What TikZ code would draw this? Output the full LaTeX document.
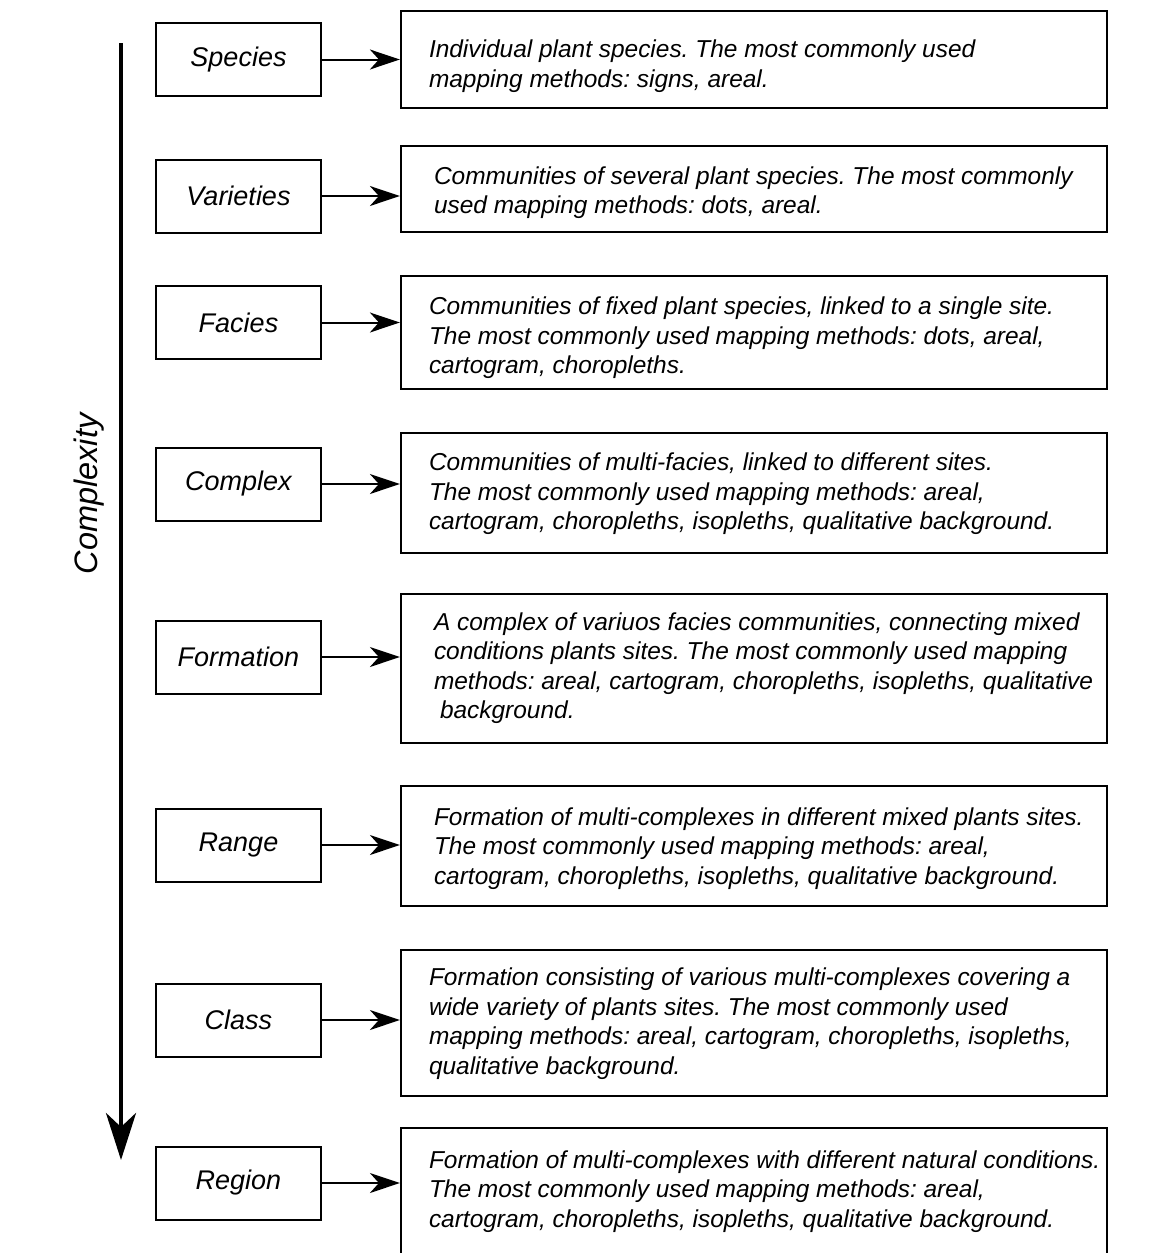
\documentclass[tikz,border=0pt]{standalone}
\usepackage{fontspec}
\setmainfont{Liberation Sans}
\usetikzlibrary{arrows.meta}
% #1: left indent, #2: downward offset of the text block, #3: lines
\newcommand\desctxt[3]{\makebox[650pt][l]{\hspace*{#1}\begin{tabular}{@{}l@{}}\rule{0pt}{\dimexpr 20.65pt+2\dimexpr #2\relax\relax}#3\end{tabular}}}
\begin{document}
\frenchspacing
\begin{tikzpicture}[x=1pt,y=-1pt,
  levelbox/.style={draw, line width=2pt, minimum width=165pt, minimum height=73pt, inner sep=0pt,
    font=\fontsize{27}{30}\selectfont\itshape\frenchspacing},
  descbox/.style={draw, line width=2.2pt, minimum width=706pt, inner xsep=28pt, inner ysep=0pt,
    font=\fontsize{24.45}{29.5}\selectfont\itshape\frenchspacing},
  link/.style={line width=2pt, -{Stealth[length=30pt,width=20pt,inset=9pt]}},
  axis/.style={line width=4.5pt, -{Stealth[length=47pt,width=30pt,inset=14pt]}},
]
\useasboundingbox (0,0) rectangle (1165,1253);

% level boxes
\node[levelbox] (l1) at (238.5,59.5) {Species};
\node[levelbox] (l2) at (238.5,196) {Varieties};
\node[levelbox] (l3) at (238.5,322.5) {Facies};
\node[levelbox] (l4) at (238.5,484) {Complex};
\node[levelbox] (l5) at (238.5,657) {Formation};
\node[levelbox] (l6) at (238.5,845) {Range};
\node[levelbox] (l7) at (238.5,1020) {Class};
\node[levelbox] (l8) at (238.5,1183) {Region};

% description boxes
\node[descbox, minimum height=97pt] (r1) at (754,59.5)
  {\desctxt{0pt}{7pt}{Individual plant species. The most commonly used\\mapping methods: signs, areal.}};
\node[descbox, minimum height=86pt] (r2) at (754,189)
  {\desctxt{5pt}{4pt}{Communities of several plant species. The most commonly\\used mapping methods: dots, areal.}};
\node[descbox, minimum height=113pt] (r3) at (754,332.5)
  {\desctxt{0pt}{6pt}{Communities of fixed plant species, linked to a single site.\\The most commonly used mapping methods: dots, areal,\\cartogram, choropleths.}};
\node[descbox, minimum height=120pt] (r4) at (754,493)
  {\desctxt{0pt}{1.5pt}{Communities of multi-facies, linked to different sites.\\The most commonly used mapping methods: areal,\\cartogram, choropleths, isopleths, qualitative background.}};
\node[descbox, minimum height=149pt] (r5) at (754,668.5)
  {\desctxt{5pt}{0pt}{A complex of variuos facies communities, connecting mixed\\conditions plants sites. The most commonly used mapping\\methods: areal, cartogram, choropleths, isopleths, qualitative\\\hspace*{6pt}background.}};
\node[descbox, minimum height=120pt] (r6) at (754,846)
  {\desctxt{5pt}{3pt}{Formation of multi-complexes in different mixed plants sites.\\The most commonly used mapping methods: areal,\\cartogram, choropleths, isopleths, qualitative background.}};
\node[descbox, minimum height=146pt] (r7) at (754,1023)
  {\desctxt{0pt}{1pt}{Formation consisting of various multi-complexes covering a\\wide variety of plants sites. The most commonly used\\mapping methods: areal, cartogram, choropleths, isopleths,\\qualitative background.}};
\node[descbox, minimum height=128pt] (r8) at (754,1192)
  {\desctxt{0pt}{0pt}{Formation of multi-complexes with different natural conditions.\\The most commonly used mapping methods: areal,\\cartogram, choropleths, isopleths, qualitative background.}};

% connectors
\foreach \i in {1,...,8}{
  \draw[link] (l\i.east) -- (l\i.east -| r\i.west);
}

% complexity axis
\coordinate (axtop) at (121,43);
\coordinate (axend) at (121,1160);
\draw[axis] (axtop) -- (axend);
\node[rotate=90, font=\fontsize{32.5}{36}\selectfont\itshape] (cx) at (89,494) {Complexity};
\end{tikzpicture}
\end{document}
